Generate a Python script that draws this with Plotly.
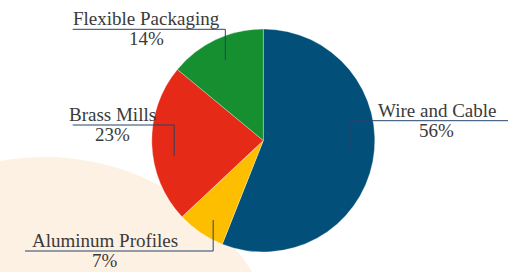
import math
import plotly.graph_objects as go

# ---- data ----
categories = ["Wire and Cable", "Aluminum Profiles", "Brass Mills", "Flexible Packaging"]
shares = [56, 7, 23, 14]
share_labels = ["56%", "7%", "23%", "14%"]
colors = ["#02507a", "#fdbe00", "#e52a17", "#168f31"]

# ---- layout (pixels) ----
W, H = 526, 272
CX, CY, R = 263.3, 140.5, 111.5
label_cx = [436.5, 105.0, 112.0, 146.5]
label_line_y = [120.7, 251.0, 125.0, 29.3]
label_x0 = [373.0, 25.0, 72.7, 72.7]
label_x1 = [508.0, 183.0, 156.0, 220.5]
LEADER_FRAC = 0.8
LEADER_LEN = 31.0

FONT = "Liberation Serif"
TEXT_COLOR = "#3a3a3a"
LINE_COLOR = "#24446b"


def px(x):
    return x / W


def py(y):
    return 1 - y / H


fig = go.Figure()
fig.add_trace(go.Pie(
    labels=categories,
    values=shares,
    sort=False,
    direction="clockwise",
    rotation=0,
    textinfo="none",
    hoverinfo="label+percent",
    marker=dict(colors=colors, line=dict(color="rgba(255,255,255,0.6)", width=0.5)),
    domain=dict(x=[px(CX - R), px(CX + R)], y=[py(CY + R), py(CY - R)]),
    showlegend=False,
))

shapes = [dict(
    type="circle", xref="paper", yref="paper", layer="below",
    x0=px(45 - 244), x1=px(45 + 244), y0=py(401 + 244), y1=py(401 - 244),
    fillcolor="#fdf1e4", line=dict(width=0),
)]
annotations = []

total = sum(shares)
cum = 0
for i, v in enumerate(shares):
    mid = (cum + v / 2) / total * 2 * math.pi
    cum += v
    ax = CX + LEADER_FRAC * R * math.sin(mid)
    ay = CY - LEADER_FRAC * R * math.cos(mid)
    ly = label_line_y[i]
    vy = ly + LEADER_LEN if ay > ly else ly - LEADER_LEN
    hx0 = min(label_x0[i], ax)
    hx1 = max(label_x1[i], ax)
    # horizontal underline
    shapes.append(dict(type="line", xref="paper", yref="paper", layer="above",
                       x0=px(hx0), x1=px(hx1), y0=py(ly), y1=py(ly),
                       line=dict(color=LINE_COLOR, width=1)))
    # vertical leader
    shapes.append(dict(type="line", xref="paper", yref="paper", layer="above",
                       x0=px(ax), x1=px(ax), y0=py(ly), y1=py(vy),
                       line=dict(color=LINE_COLOR, width=1)))
    annotations.append(dict(xref="paper", yref="paper", x=px(label_cx[i]), y=py(ly - 10.6),
                            text=categories[i], showarrow=False, xanchor="center", yanchor="middle",
                            font=dict(family=FONT, size=19, color=TEXT_COLOR)))
    annotations.append(dict(xref="paper", yref="paper", x=px(label_cx[i]), y=py(ly + 9.6),
                            text=share_labels[i], showarrow=False, xanchor="center", yanchor="middle",
                            font=dict(family=FONT, size=19, color=TEXT_COLOR)))

fig.update_layout(
    width=W, height=H,
    margin=dict(l=0, r=0, t=0, b=0),
    paper_bgcolor="white",
    plot_bgcolor="white",
    shapes=shapes,
    annotations=annotations,
)

fig.write_html("out.html", config={"displayModeBar": False},
               post_script="document.body.style.margin='0';document.body.style.padding='0';")
